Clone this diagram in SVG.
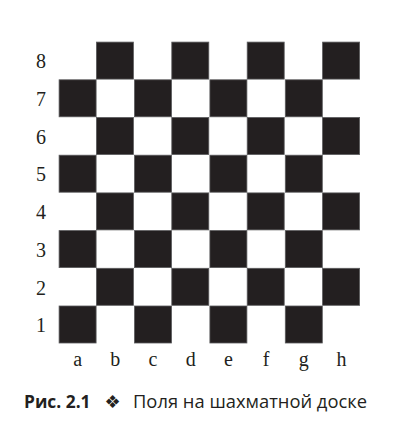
<svg xmlns="http://www.w3.org/2000/svg" width="412" height="426" viewBox="0 0 412 426">
<style>
.d{fill:#231f20;stroke:#5a5a5c;stroke-width:0.8}
.lbl{font-family:"Liberation Serif",serif;font-size:20px;fill:#231f20;text-anchor:middle}
.cap{font-family:"Open Sans","Noto Sans",sans-serif;font-size:17.5px;fill:#231f20}
</style>
<rect width="412" height="426" fill="#fff"/>
<g id="board">
<rect class="d" x="96.4" y="42.1" width="37" height="37"/>
<rect class="d" x="171.8" y="42.1" width="37" height="37"/>
<rect class="d" x="247.2" y="42.1" width="37" height="37"/>
<rect class="d" x="322.6" y="42.1" width="37" height="37"/>
<rect class="d" x="59.1" y="79.8" width="37" height="37"/>
<rect class="d" x="134.5" y="79.8" width="37" height="37"/>
<rect class="d" x="209.9" y="79.8" width="37" height="37"/>
<rect class="d" x="285.3" y="79.8" width="37" height="37"/>
<rect class="d" x="96.4" y="117.5" width="37" height="37"/>
<rect class="d" x="171.8" y="117.5" width="37" height="37"/>
<rect class="d" x="247.2" y="117.5" width="37" height="37"/>
<rect class="d" x="322.6" y="117.5" width="37" height="37"/>
<rect class="d" x="59.1" y="155.2" width="37" height="37"/>
<rect class="d" x="134.5" y="155.2" width="37" height="37"/>
<rect class="d" x="209.9" y="155.2" width="37" height="37"/>
<rect class="d" x="285.3" y="155.2" width="37" height="37"/>
<rect class="d" x="96.4" y="192.9" width="37" height="37"/>
<rect class="d" x="171.8" y="192.9" width="37" height="37"/>
<rect class="d" x="247.2" y="192.9" width="37" height="37"/>
<rect class="d" x="322.6" y="192.9" width="37" height="37"/>
<rect class="d" x="59.1" y="230.6" width="37" height="37"/>
<rect class="d" x="134.5" y="230.6" width="37" height="37"/>
<rect class="d" x="209.9" y="230.6" width="37" height="37"/>
<rect class="d" x="285.3" y="230.6" width="37" height="37"/>
<rect class="d" x="96.4" y="268.3" width="37" height="37"/>
<rect class="d" x="171.8" y="268.3" width="37" height="37"/>
<rect class="d" x="247.2" y="268.3" width="37" height="37"/>
<rect class="d" x="322.6" y="268.3" width="37" height="37"/>
<rect class="d" x="59.1" y="306.0" width="37" height="37"/>
<rect class="d" x="134.5" y="306.0" width="37" height="37"/>
<rect class="d" x="209.9" y="306.0" width="37" height="37"/>
<rect class="d" x="285.3" y="306.0" width="37" height="37"/>
</g>
<g id="ranks" class="lbl">
<text x="41" y="68.3">8</text>
<text x="41" y="106">7</text>
<text x="41" y="143.7">6</text>
<text x="41" y="181.4">5</text>
<text x="41" y="219.1">4</text>
<text x="41" y="256.8">3</text>
<text x="41" y="294.5">2</text>
<text x="41" y="332.2">1</text>
</g>
<g id="files" class="lbl">
<text x="77.6" y="366">a</text>
<text x="115.3" y="366">b</text>
<text x="153" y="366">c</text>
<text x="190.7" y="366">d</text>
<text x="228.4" y="366">e</text>
<text x="266.1" y="366">f</text>
<text x="303.8" y="366">g</text>
<text x="341.5" y="366">h</text>
</g>
<g id="caption">
<text class="cap" x="24" y="408" font-weight="bold" textLength="66.5" lengthAdjust="spacingAndGlyphs">Рис. 2.1</text>
<text x="112.5" y="407.5" font-family="DejaVu Sans,sans-serif" font-size="18" fill="#231f20" text-anchor="middle">❖</text>
<text class="cap" x="133" y="408" textLength="234" lengthAdjust="spacingAndGlyphs">Поля на шахматной доске</text>
</g>
</svg>
